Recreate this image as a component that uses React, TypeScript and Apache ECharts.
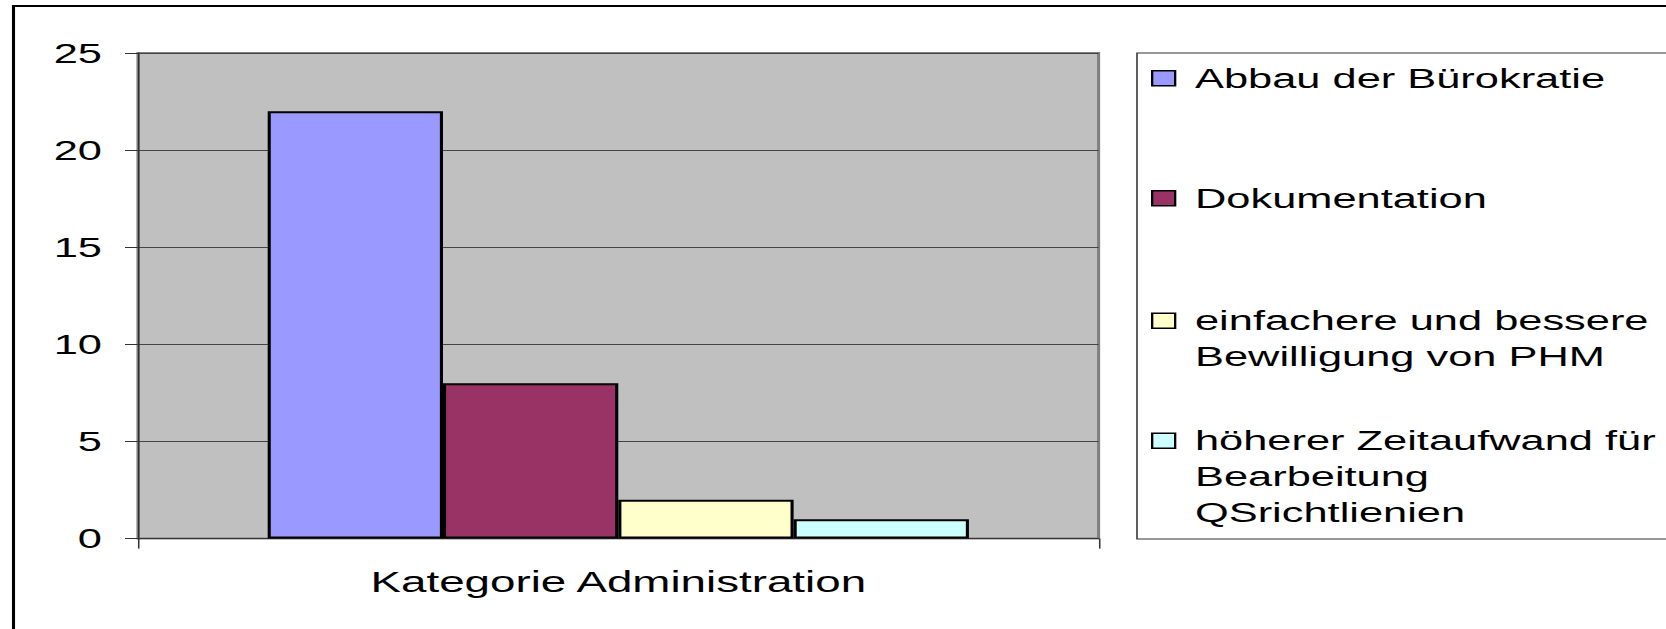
import React, { useEffect, useRef } from 'react';
import * as echarts from 'echarts';

const categories = ['Kategorie Administration'];
const seriesNames = [
  'Abbau der Bürokratie',
  'Dokumentation',
  'einfachere und bessere Bewilligung von PHM',
  'höherer Zeitaufwand für Bearbeitung QSrichtlienien',
];
const abbauValues = [22];
const dokuValues = [8];
const phmValues = [2];
const qsValues = [1];
const seriesValues = [abbauValues, dokuValues, phmValues, qsValues];
const seriesColors = ['#9999FF', '#993366', '#FFFFCC', '#CCFFFF'];
const legendLines = [
  ['Abbau der Bürokratie'],
  ['Dokumentation'],
  ['einfachere und bessere', 'Bewilligung von PHM'],
  ['höherer Zeitaufwand für', 'Bearbeitung', 'QSrichtlienien'],
];
const yMin = 0;
const yMax = 25;
const yInterval = 5;

const SX = 1.55;
const W = 1666;
const H = 629;
const ux = (v: number) => v / SX;
const FONT = '"Liberation Sans", Arial, sans-serif';

export default function App() {
  const ref = useRef<HTMLDivElement>(null);
  useEffect(() => {
    const chart = echarts.init(ref.current as HTMLDivElement, null, { renderer: 'svg' });
    const L = 36;
    const legendCenters = [74, 194, 316.5, 436.5];
    const legends = seriesNames.map((name, i) => {
      const n = legendLines[i].length;
      const pad = new Array(n - 1).fill('\u00a0');
      return {
        show: true,
        data: [name],
        left: ux(1151),
        top: legendCenters[i] - 13.7 - (n - 1) * L,
        orient: 'vertical',
        padding: 0,
        itemWidth: ux(23),
        itemHeight: 15,
        icon: 'rect',
        selectedMode: false,
        itemStyle: { borderColor: '#000', borderWidth: 1.5 },
        formatter: () => pad.concat(legendLines[i].map((s) => '\u00a0' + s)).join('\n'),
        textStyle: {
          fontFamily: FONT,
          fontSize: 28,
          color: '#000',
          lineHeight: L,
        },
      };
    });
    chart.setOption({
      animation: false,
      backgroundColor: '#fff',
      textStyle: { fontFamily: FONT },
      legend: legends,
      grid: {
        left: ux(138),
        top: 53,
        width: ux(1098.6 - 138),
        height: 485.6,
        show: true,
        backgroundColor: '#C0C0C0',
        borderColor: '#808080',
        borderWidth: 2,
      },
      xAxis: {
        type: 'category',
        data: categories,
        axisLine: { show: true, lineStyle: { color: '#333', width: 1 } },
        axisTick: { show: true, length: 10, lineStyle: { color: '#333' } },
        axisLabel: { fontFamily: FONT, fontSize: 29.5, color: '#000', margin: 28 },
        splitLine: { show: false },
      },
      yAxis: {
        type: 'value',
        min: yMin,
        max: yMax,
        interval: yInterval,
        axisLine: { show: true, lineStyle: { color: '#333', width: 1 } },
        axisTick: { show: true, length: ux(13), lineStyle: { color: '#333' } },
        axisLabel: { fontFamily: FONT, fontSize: 28, color: '#000', margin: ux(36) },
        splitLine: { show: true, lineStyle: { color: '#444', width: 1 } },
      },
      series: seriesNames.map((name, i) => ({
        type: 'bar',
        name,
        data: seriesValues[i],
        barGap: '0%',
        barCategoryGap: '27%',
        itemStyle: { color: seriesColors[i], borderColor: '#000', borderWidth: 2 },
        emphasis: { disabled: true },
      })),
      graphic: [
        {
          type: 'rect',
          silent: true,
          shape: { x: ux(13.5), y: 6, width: 3000, height: 3000 },
          style: { fill: 'none', stroke: '#000', lineWidth: 2 },
        },
        {
          type: 'rect',
          silent: true,
          shape: { x: ux(1137), y: 53, width: 3000, height: 486 },
          style: { fill: 'none', stroke: '#333', lineWidth: 1 },
        },
      ],
    });
    return () => chart.dispose();
  }, []);
  return (
    <div
      ref={ref}
      style={{
        position: 'absolute',
        left: 0,
        top: 0,
        width: W / SX,
        height: H,
        transform: `scaleX(${SX})`,
        transformOrigin: '0 0',
        background: '#fff',
      }}
    />
  );
}
